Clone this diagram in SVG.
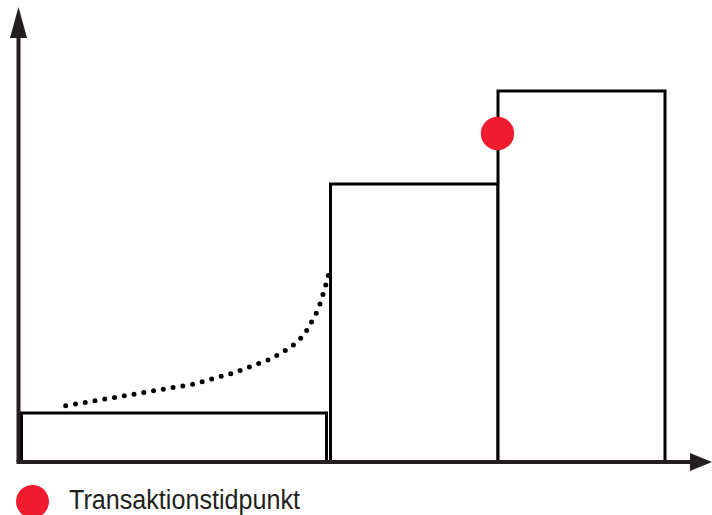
<svg xmlns="http://www.w3.org/2000/svg" width="712" height="515" viewBox="0 0 712 515">
<style>
.bar{fill:#fff;stroke:#000;stroke-width:3}
.axis{stroke:#231f20;stroke-width:4;fill:none}
.head{fill:#231f20}
.dot{fill:#ee1c2e}
.dots{fill:none;stroke:#000;stroke-width:5;stroke-linecap:round;stroke-dasharray:0 9.9}
.lbl{font-family:"Liberation Sans",Arial,sans-serif;font-size:27px;fill:#231f20}
</style>
<rect width="712" height="515" fill="#fff"/>
<g id="bar1"><rect class="bar" x="21.5" y="413" width="305" height="49"/></g>
<g id="bar2"><rect class="bar" x="330.5" y="184" width="167.5" height="278"/></g>
<g id="bar3"><rect class="bar" x="498" y="91" width="167" height="371"/></g>
<g id="connectors">
<path class="dots" d="M65.7,405.7 L194,384 L233,373 L271,359 L288,349 L296,343 L303,336 L309,327 L313,319 L318,310 L321,301 L324,291 L327,281 L329.5,271"/>
<line class="axis" x1="18.5" y1="462" x2="18.5" y2="30"/>
<polygon class="head" points="10,38 27,38 18.5,7"/>
<line class="axis" x1="16.5" y1="462" x2="695" y2="462"/>
<polygon class="head" points="690,453 690,471 712,462"/>
</g>
<g id="marker"><circle class="dot" cx="497.5" cy="133.5" r="16.7"/></g>
<g id="legend">
<circle class="dot" cx="32.5" cy="501.5" r="16.5"/>
<text class="lbl" x="69" y="508.5" textLength="231" lengthAdjust="spacingAndGlyphs">Transaktionstidpunkt</text>
</g>
</svg>
